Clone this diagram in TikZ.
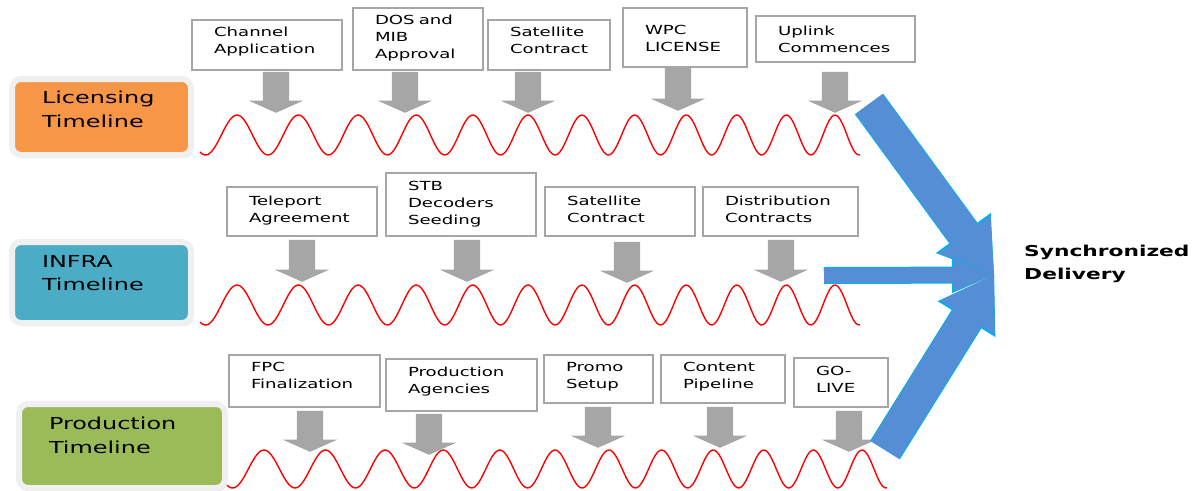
\documentclass[tikz,border=0pt]{standalone}
\usepackage{fontspec}
\setmainfont{DejaVu Sans}[FakeStretch=1.45]
\usepackage{tikz}
\usetikzlibrary{arrows.meta,shapes.arrows,shadows,positioning}
\definecolor{licOrange}{HTML}{F79646}
\definecolor{infraTeal}{HTML}{4BACC6}
\definecolor{prodGreen}{HTML}{9BBB59}
\definecolor{pushGray}{HTML}{A6A6A6}
\definecolor{syncBlue}{HTML}{558ED5}
\definecolor{syncEdge}{HTML}{00B0F0}

\begin{document}
\begin{tikzpicture}[x=1pt, y=-1pt,
    lane/.style={draw=black!6, line width=6pt, rounded corners=9pt, align=left, inner xsep=30pt, font=\fontsize{16.5}{23.5}\selectfont, drop shadow={shadow xshift=2pt, shadow yshift=-3pt, opacity=0.25}},
    milestone/.style={draw=black!35, line width=1.2pt, fill=white, align=left, inner xsep=22pt, inner ysep=0pt, text depth=24pt, font=\fontsize{12.5}{17}\selectfont},
    push/.style={single arrow, fill=pushGray, rotate=-90, anchor=tip, inner xsep=0pt, inner ysep=13pt, single arrow head extend=14pt, single arrow tip angle=132},
    wave/.style={red, line width=1.4pt},
    merge/.style={draw=syncBlue, line width=33pt, -{Triangle[length=50pt, width=64pt, line width=0pt]}, preaction={draw=syncEdge, line width=35pt, -{Triangle[length=52pt, width=68pt, line width=0pt]}}},
    mergethin/.style={draw=syncBlue, line width=15pt, -{Triangle[length=40pt, width=32pt, line width=0pt]}, preaction={draw=syncEdge, line width=17pt, -{Triangle[length=42pt, width=36pt, line width=0pt]}}},
    sync/.style={align=left, inner sep=2pt, font=\bfseries\fontsize{15}{23}\selectfont}
]
\useasboundingbox (0,0) rectangle (1204,490);

\node[lane, fill=licOrange, minimum width=179pt, minimum height=76pt, text width=119pt, text depth=39.5pt] (lic) at (101.5,117) {Licensing\\Timeline};
\node[lane, fill=infraTeal, minimum width=179pt, minimum height=81pt, text width=119pt, text depth=42.5pt] (infra) at (101.5,282.5) {INFRA\\Timeline};
\node[lane, fill=prodGreen, minimum width=206pt, minimum height=84pt, text width=146pt, text depth=45pt] (prod) at (122,446) {Production\\Timeline};

\draw[wave] plot[domain=200:860, samples=300] (\x, {135 - 20*cos(577.2*((\x-237)/100) + 14.22*((\x-237)/100)^2)});
\draw[wave] plot[domain=200:860, samples=300] (\x, {305 - 20*cos(577.2*((\x-237)/100) + 14.22*((\x-237)/100)^2)});
\draw[wave] plot[domain=227:887, samples=300] (\x, {469 - 19*cos(577.2*((\x-264)/100) + 14.22*((\x-264)/100)^2)});

\node[milestone, minimum width=150pt, minimum height=50pt, text width=106pt, text depth=26.5pt] (chApp) at (267,45) {Channel\\Application};
\node[milestone, minimum width=130pt, minimum height=62pt, text width=86pt, text depth=38.5pt] (dosMib) at (418,39) {DOS and\\MIB\\Approval};
\node[milestone, minimum width=122pt, minimum height=50pt, text width=78pt, text depth=26.5pt] (satLic) at (549,45) {Satellite\\Contract};
\node[milestone, minimum width=124pt, minimum height=59pt, text width=80pt, text depth=15.5pt] (wpc) at (685,37.5) {WPC\\LICENSE};
\node[milestone, minimum width=159pt, minimum height=46pt, text width=115pt, text depth=17pt] (uplink) at (835.5,39) {Uplink\\Commences};

\node[milestone, minimum width=150pt, minimum height=49pt, text width=106pt, text depth=22pt] (teleport) at (302,211.5) {Teleport\\Agreement};
\node[milestone, minimum width=150pt, minimum height=63pt, text width=106pt, text depth=38pt] (stb) at (461,204.5) {STB\\Decoders\\Seeding};
\node[milestone, minimum width=150pt, minimum height=49pt, text width=106pt, text depth=22pt] (satInfra) at (620,211.5) {Satellite\\Contract};
\node[milestone, minimum width=155pt, minimum height=49pt, text width=111pt, text depth=22pt] (distrib) at (780.5,211.5) {Distribution\\Contracts};

\node[milestone, minimum width=151pt, minimum height=52pt, text width=107pt, text depth=28pt] (fpc) at (304.5,381) {FPC\\Finalization};
\node[milestone, minimum width=151pt, minimum height=52pt, text width=107pt, text depth=27pt] (agencies) at (461.5,385) {Production\\Agencies};
\node[milestone, minimum width=109pt, minimum height=48pt, text width=65pt] (promo) at (598.5,379) {Promo\\Setup};
\node[milestone, minimum width=124pt, minimum height=48pt, text width=80pt] (pipeline) at (723,379) {Content\\Pipeline};
\node[milestone, minimum width=94pt, minimum height=49pt, text width=50pt, text depth=23pt] (golive) at (841,382.5) {GO-\\LIVE};

\node[push, minimum height=41pt] (chAppDown) at (276,113) {};
\node[push, minimum height=41pt] (dosMibDown) at (405,113) {};
\node[push, minimum height=41pt] (satLicDown) at (528,113) {};
\node[push, minimum height=43pt] (wpcDown) at (678,111) {};
\node[push, minimum height=41pt] (uplinkDown) at (835,113) {};

\node[push, minimum height=42pt] (teleportDown) at (302,282) {};
\node[push, minimum height=42pt] (stbDown) at (467,282) {};
\node[push, minimum height=41pt] (satInfraDown) at (627,283) {};
\node[push, minimum height=42pt] (distribDown) at (781,282) {};

\node[push, minimum height=41pt] (fpcDown) at (310,452) {};
\node[push, minimum height=41pt] (agenciesDown) at (429,455) {};
\node[push, minimum height=41pt] (promoDown) at (598,448) {};
\node[push, minimum height=41pt] (pipelineDown) at (720,448) {};
\node[push, minimum height=41pt] (goliveDown) at (849,452) {};

\node[sync, anchor=west] (sync) at (1022,263.6) {Synchronized\\Delivery};
\coordinate (meet) at (994,275);
\coordinate (licOut) at (869,104);
\coordinate (infraOut) at (824,275.5);
\coordinate (prodOut) at (885,450);

\draw[merge] (licOut) -- (meet);
\draw[mergethin] (infraOut) -- (meet);
\draw[merge] (prodOut) -- (meet);
\end{tikzpicture}
\end{document}
